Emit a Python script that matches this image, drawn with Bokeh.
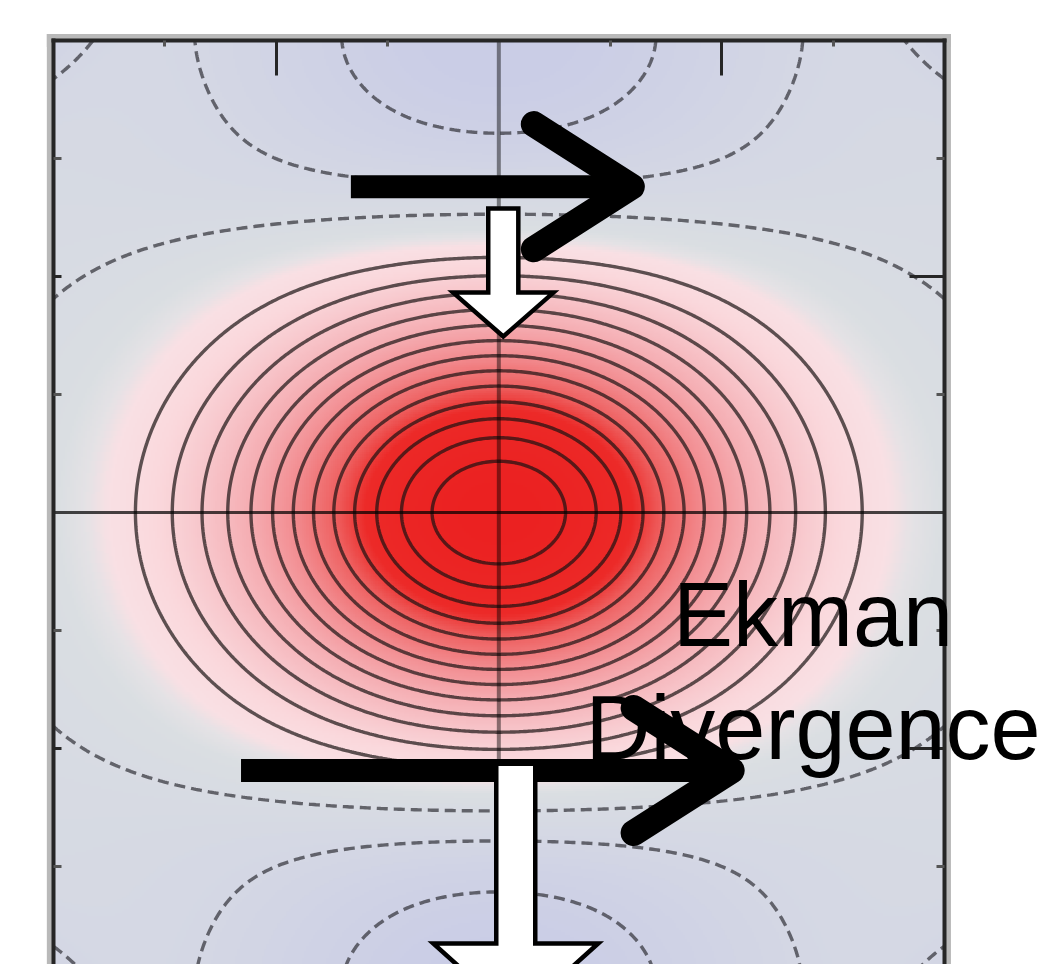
import numpy as np
from bokeh.plotting import figure
from bokeh.models import (LinearColorMapper, Label, FixedTicker, LinearAxis,
                          CustomJSTickFormatter)
from bokeh.embed import file_html
from bokeh.resources import INLINE

# ---- domain (nondimensional x / y units) -------------------------------
X_LO, X_HI = -2.0, 2.0
Y_LO, Y_HI = -1.915, 2.0
PAD = 0.03
RIGHT_MARGIN = 0.44        # white strip right of the box, room for the label

# ---- anomaly field parameters -------------------------------------------
core_amp = 15.2            # warm core amplitude (contour-interval units)
core_sx, core_sy = 1.18, 0.86
background = 1.25          # far-field offset
lobe_amp, lobe_y, lobe_sx, lobe_sy = 2.45, 2.0, 1.25, 0.75    # off-equatorial cold lobes
band_amp, band_y, band_sx, band_sy = 0.6, 1.35, 1.3, 0.35    # flank of the cold lobes
corner_amp, corner_x, corner_y, corner_s = 5.5, 2.5, 2.4, 0.5 # corner cold cells

pos_levels = [1, 2, 3, 4, 5, 6, 7, 8, 9, 10, 11, 12, 13]
neg_levels = [-3, -2, -1]

# colour ramp anchors (value -> rgb)
ramp_values = [-4.5, -2.0, -0.4, 0.0, 0.4, 1.5, 3.0, 5.0, 7.0, 9.0, 10.5, 13.8]
ramp_colors = [(196, 199, 231), (212, 215, 228), (218, 222, 226), (228, 226, 229),
               (249, 224, 228), (250, 216, 220), (247, 197, 202), (245, 172, 177),
               (242, 140, 144), (238, 98, 98), (236, 42, 40), (235, 33, 33)]

# wind arrows: (x_start, x_tip, y)
wind_arrows = [(-0.664, 0.637, 1.381), (-1.157, 1.085, -1.093)]
WIND_HEAD_DX, WIND_HEAD_DY = 0.48, 0.265

# vertical-motion block arrows: (x_center, y_top, y_head_base, y_tip, shaft_w, head_w)
block_arrows = [(0.02, 1.288, 0.932, 0.746, 0.135, 0.45),
                (0.076, -1.064, -1.826, -2.14, 0.175, 0.74)]

label_lines = ["Ekman", "Divergence"]
label_x = 1.41
label_y = [-0.436, -0.911]


def field(X, Y):
    ay = np.abs(Y)
    core = core_amp * np.exp(-(X / core_sx) ** 2 - (Y / core_sy) ** 2)
    lobe = lobe_amp * np.exp(-(X / lobe_sx) ** 2 - ((ay - lobe_y) / lobe_sy) ** 2)
    band = band_amp * np.exp(-(X / band_sx) ** 2 - ((ay - band_y) / band_sy) ** 2)
    corner = corner_amp * np.exp(-((np.abs(X) - corner_x) ** 2 + (ay - corner_y) ** 2) / corner_s ** 2)
    return core - background - lobe - band - corner


xs = np.linspace(X_LO, X_HI, 401)
ys = np.linspace(-2.0, 2.0, 401)
XX, YY = np.meshgrid(xs, ys)
Z = field(XX, YY)

# palette interpolated between ramp anchors
grid = np.linspace(ramp_values[0], ramp_values[-1], 512)
chan = np.array(ramp_colors, dtype=float)
palette = ["#%02x%02x%02x" % tuple(int(round(np.interp(v, ramp_values, chan[:, k]))) for k in range(3))
           for v in grid]
mapper = LinearColorMapper(palette=palette, low=ramp_values[0], high=ramp_values[-1])

p = figure(width=1042, height=964,
           x_range=(X_LO - PAD, X_HI + RIGHT_MARGIN), y_range=(Y_LO, Y_HI + PAD),
           x_axis_type=None, y_axis_type=None, toolbar_location=None, output_backend="svg",
           min_border_left=46, min_border_right=0, min_border_top=33, min_border_bottom=0)
p.outline_line_color = None
p.background_fill_color = "white"
p.border_fill_color = "white"

# soft grey rim around the box (inner half is covered by the field)
p.segment(x0=[X_LO, X_HI, X_LO], y0=[Y_LO - 0.1, Y_LO - 0.1, Y_HI],
          x1=[X_LO, X_HI, X_HI], y1=[Y_HI, Y_HI, Y_HI],
          line_color="#b9b9b9", line_width=13, line_cap="square")

p.image(image=[Z], x=X_LO, y=-2.0, dw=X_HI - X_LO, dh=4.0, color_mapper=mapper)

p.contour(xs, ys, Z, levels=pos_levels, fill_color=None,
          line_color="#1a1212", line_alpha=0.7, line_width=3.4)
p.contour(xs, ys, Z, levels=neg_levels, fill_color=None,
          line_color="#34343c", line_alpha=0.72, line_width=3.4, line_dash="11 6")

# equator and central meridian
p.segment(x0=[X_LO], y0=[0], x1=[X_HI], y1=[0], line_color="black", line_alpha=0.72, line_width=3)
p.segment(x0=[0], y0=[Y_LO - 0.1], x1=[0], y1=[Y_HI], line_color="black", line_alpha=0.45, line_width=4)

# wind stress arrows
for x0, x1, yy in wind_arrows:
    p.segment(x0=[x0], y0=[yy], x1=[x1 - 0.04], y1=[yy], line_color="black", line_width=23)
    p.line(x=[x1 - WIND_HEAD_DX, x1 - 0.04, x1 - WIND_HEAD_DX],
           y=[yy + WIND_HEAD_DY, yy, yy - WIND_HEAD_DY],
           line_color="black", line_width=26, line_join="round", line_cap="round")

# downward block arrows
for xc, yt, yb, ytip, sw, hw in block_arrows:
    px = [xc - sw / 2, xc + sw / 2, xc + sw / 2, xc + hw / 2, xc, xc - hw / 2, xc - sw / 2]
    py = [yt, yt, yb, yb, ytip, yb, yb]
    p.patch(x=px, y=py, fill_color="white", line_color="black", line_width=4.5, line_join="miter")


def edge_axis(fixed, bounds, tick_in, tick_out, minor_in, minor_out, ticks, minors):
    return LinearAxis(ticker=FixedTicker(ticks=ticks, minor_ticks=minors),
                      formatter=CustomJSTickFormatter(code="return ''"),
                      fixed_location=fixed, bounds=bounds,
                      axis_line_color="#262626", axis_line_width=4, axis_line_cap="square",
                      major_tick_in=tick_in, major_tick_out=tick_out,
                      major_tick_line_color="#262626", major_tick_line_width=3,
                      minor_tick_in=minor_in, minor_tick_out=minor_out,
                      minor_tick_line_color="#555555", minor_tick_line_width=3,
                      major_label_standoff=0)


ticks_major = [-1, 1]
ticks_minor = [-1.5, -0.5, 0.5, 1.5]
# top edge of the box
p.add_layout(edge_axis(Y_HI, (X_LO, X_HI), 35, 0, 6, 0, ticks_major, ticks_minor), "above")
# left edge of the box
p.add_layout(edge_axis(X_LO, (Y_LO - 0.1, Y_HI), 8, 0, 8, 0, ticks_major, ticks_minor), "left")
# right edge of the box (ticks point back into the box)
p.add_layout(edge_axis(X_HI, (Y_LO - 0.1, Y_HI), 0, 35, 0, 8, ticks_major, ticks_minor), "left")

for txt, yy in zip(label_lines, label_y):
    p.add_layout(Label(x=label_x, y=yy, text=txt, text_font="Liberation Sans",
                       text_font_size="90px", text_align="center",
                       text_baseline="alphabetic", text_color="black"))

open("out.html", "w").write(file_html(p, INLINE))
